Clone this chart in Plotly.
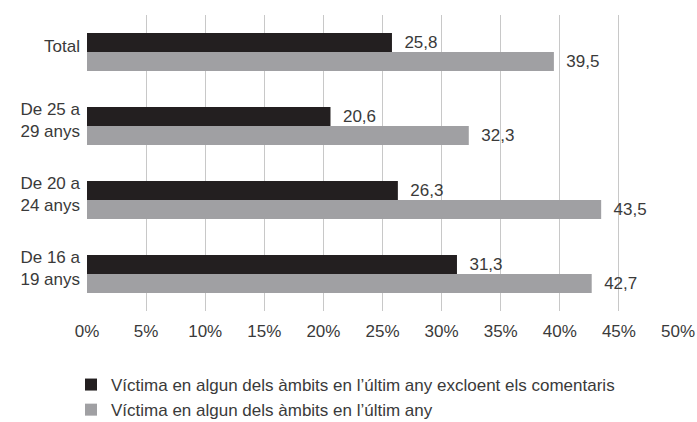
import plotly.graph_objects as go

# categories, bottom to top
grups = ["De 16 a<br>19 anys", "De 20 a<br>24 anys", "De 25 a<br>29 anys", "Total"]
sense_comentaris = [31.3, 26.3, 20.6, 25.8]
amb_comentaris = [42.7, 43.5, 32.3, 39.5]

nom_negre = "Víctima en algun dels àmbits en l’últim any excloent els comentaris"
nom_gris = "Víctima en algun dels àmbits en l’últim any"

font = "Liberation Sans, Arial, sans-serif"
text_color = "#3a3a3a"
fs = 17

fig = go.Figure()

# grey first so that it sits under the black bar in each group
fig.add_trace(go.Bar(
    y=grups, x=amb_comentaris, orientation="h", name=nom_gris,
    marker=dict(color="#a0a0a3", line=dict(width=0)),
    texttemplate="\u00a0\u00a0%{x:.1f}", textposition="outside", cliponaxis=False,
    textfont=dict(size=fs, color=text_color, family=font),
))
fig.add_trace(go.Bar(
    y=grups, x=sense_comentaris, orientation="h", name=nom_negre,
    marker=dict(color="#231f20", line=dict(width=0)),
    texttemplate="\u00a0\u00a0%{x:.1f}", textposition="outside", cliponaxis=False,
    textfont=dict(size=fs, color=text_color, family=font),
))

fig.update_layout(
    width=697, height=422,
    barmode="group", bargap=0.486, bargroupgap=0,
    separators=",.",
    paper_bgcolor="white", plot_bgcolor="white",
    margin=dict(l=87, r=19, t=15, b=111, autoexpand=False),
    font=dict(family=font, size=fs, color=text_color),
    xaxis=dict(
        range=[0, 50], dtick=5, ticksuffix="%",
        showgrid=True, gridcolor="#c8c8c8", gridwidth=1,
        zeroline=False, showline=False, ticks="",
        ticklabelstandoff=8, automargin=False,
        tickfont=dict(size=fs, color=text_color),
    ),
    yaxis=dict(
        showgrid=False, zeroline=False, showline=False, ticks="",
        ticklabelstandoff=6, ticklabelshift=-6, automargin=False,
        tickfont=dict(size=fs, color=text_color),
    ),
    legend=dict(
        orientation="v", traceorder="reversed",
        x=(71 - 87) / 591, xanchor="left",
        y=(311 - 367) / 296, yanchor="top",
        font=dict(size=17, color=text_color),
        itemwidth=30, tracegroupgap=0,
        bgcolor="rgba(0,0,0,0)",
    ),
    showlegend=True,
)

# page body has an 8px default margin; drop it so the chart fills the window
fig.write_html("out.html", config={"displayModeBar": False},
               post_script="document.body.style.margin='0';")
